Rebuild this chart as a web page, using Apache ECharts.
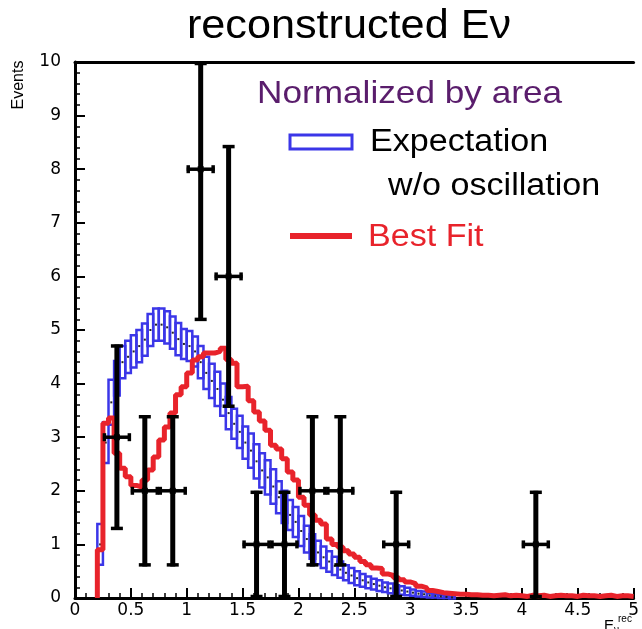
<!DOCTYPE html>
<html><head><meta charset="utf-8">
<script src="https://cdn.jsdelivr.net/npm/echarts@6/dist/echarts.min.js"></script>
<style>html,body{margin:0;padding:0;background:#fff}#c{width:642px;height:629px}</style>
</head><body><div id="c"></div>
<script>
// ---- data ----
const binStart = 0.2;
const binWidth = 0.05;
// Best fit histogram (bins of 0.05 from 0.2 to 5.0)
const bestFit = [0.9,3.26,3.36,2.7,2.42,2.26,2.1,2.07,2.2,2.39,2.63,2.95,3.19,3.45,3.79,3.94,4.2,4.44,4.5,4.57,
  4.57,4.6,4.66,4.45,4.38,3.94,3.95,3.68,3.47,3.3,3.13,2.85,2.78,2.6,2.35,2.2,1.88,1.73,1.55,1.45,
  1.38,1.1,1.0,0.95,0.88,0.82,0.76,0.68,0.62,0.56,0.55,0.45,0.42,0.38,0.34,0.3,0.27,0.22,0.19,0.14,
  0.12,0.1,0.09,0.08,0.07,0.07,0.06,0.06,0.05,0.05,0.04,0.05,0.06,0.04,0.05,0.04,0.03,0.05,0.04,0.05,
  0.03,0.04,0.05,0.04,0.04,0.03,0.05,0.04,0.04,0.03,0.04,0.05,0.03,0.04,0.04,0.03];
// Expectation w/o oscillation (central values and half error)
const expectation = [1.0,2.9,3.65,4.1,4.4,4.5,4.6,4.7,4.82,5.0,5.1,5.1,5.05,4.95,4.83,4.74,4.7,4.6,4.4,4.2,
  4.05,3.9,3.7,3.45,3.25,3.1,2.9,2.75,2.55,2.38,2.25,2.08,1.88,1.7,1.55,1.42,1.25,1.1,0.96,0.85,
  0.76,0.68,0.6,0.53,0.47,0.42,0.37,0.33,0.29,0.26,0.23,0.2,0.18,0.16,0.14,0.12,0.1,0.08,0.07,0.05,
  0.04,0.03,0.02,0.01];
const expectationErr = [0.38,0.38,0.42,0.32,0.3,0.3,0.3,0.3,0.3,0.3,0.3,0.3,0.3,0.3,0.3,0.28,0.28,0.28,0.3,0.3,
  0.32,0.32,0.3,0.3,0.28,0.3,0.3,0.32,0.32,0.32,0.32,0.32,0.3,0.3,0.28,0.28,0.28,0.25,0.23,0.22,
  0.2,0.19,0.17,0.15,0.14,0.14,0.13,0.12,0.11,0.1,0.1,0.09,0.09,0.08,0.08,0.07,0.06,0.05,0.05,0.04,
  0.03,0.03,0.02,0.01];
// Data points
const dataX = [0.375,0.625,0.875,1.125,1.375,1.625,1.875,2.125,2.375,2.875,4.125];
const dataY = [3,2,2,8,6,1,1,2,2,1,1];
const dataErrDown = [1.73,1.41,1.41,2.83,2.45,1,1,1.41,1.41,1,1];
const dataErrUp = [1.73,1.41,1.41,2.83,2.45,1,1,1.41,1.41,1,1];
const dataHalfWidth = 0.125;

const BLUE = '#3b36e8', RED = '#e8232b', PURPLE = '#5a1d6c';
const FONT = '"Liberation Sans", Arial, Helvetica, sans-serif';

// ---- build series data ----
const boxData = expectation.map((v, i) => [binStart + i * binWidth, binStart + (i + 1) * binWidth, v - expectationErr[i], v + expectationErr[i], v]);
const stepData = [[binStart, 0]];
bestFit.forEach((v, i) => stepData.push([binStart + i * binWidth, v]));
stepData.push([binStart + bestFit.length * binWidth, bestFit[bestFit.length - 1]]);
const pointData = dataX.map((x, i) => [x, dataY[i], dataY[i] - dataErrDown[i], dataY[i] + dataErrUp[i], dataHalfWidth]);

const chart = echarts.init(document.getElementById('c'), null, {renderer: 'canvas'});
const axisLabel = {color: '#000', fontSize: 17, fontFamily: '"DejaVu Sans", sans-serif'};
chart.setOption({
  animation: false,
  backgroundColor: '#fff',
  grid: {left: 75, right: 4, top: 62, bottom: 31, containLabel: false},
  xAxis: [{
    type: 'value', min: 0, max: 5, interval: 0.5,
    axisLine: {lineStyle: {color: '#000', width: 3}},
    axisTick: {inside: true, length: 10, lineStyle: {color: '#000', width: 2}},
    minorTick: {show: true, splitNumber: 5, length: 5, lineStyle: {color: '#000', width: 1.5}},
    splitLine: {show: false},
    axisLabel: Object.assign({margin: 4}, axisLabel)
  }, {
    type: 'value', min: 0, max: 5, position: 'top',
    axisLine: {show: true, onZero: false, lineStyle: {color: '#000', width: 3}},
    axisTick: {show: false}, axisLabel: {show: false}, splitLine: {show: false}
  }],
  yAxis: {
    type: 'value', min: 0, max: 10, interval: 1,
    axisLine: {show: true, lineStyle: {color: '#000', width: 3}},
    axisTick: {show: true, inside: true, length: 10, lineStyle: {color: '#000', width: 2}},
    minorTick: {show: true, splitNumber: 5, length: 5, lineStyle: {color: '#000', width: 1.5}},
    splitLine: {show: false},
    axisLabel: Object.assign({margin: 14}, axisLabel)
  },
  series: [{
    type: 'custom', z: 2,
    data: boxData,
    renderItem: function (params, api) {
      const x0 = api.value(0), x1 = api.value(1), lo = api.value(2), hi = api.value(3), c = api.value(4);
      const p0 = api.coord([x0, hi]);
      const p1 = api.coord([x1, lo]);
      const pc = api.coord([(x0 + x1) / 2, c]);
      return {
        type: 'group',
        children: [{
          type: 'rect',
          shape: {x: p0[0], y: p0[1], width: p1[0] - p0[0], height: Math.max(p1[1] - p0[1], 1.5)},
          style: {fill: 'none', stroke: BLUE, lineWidth: 2.5}
        }, {
          type: 'rect',
          shape: {x: pc[0] - 1, y: pc[1] - 1, width: 2, height: 2},
          style: {fill: '#222'}
        }]
      };
    }
  }, {
    type: 'line', z: 3,
    data: stepData,
    step: 'end',
    symbol: 'none',
    lineStyle: {color: RED, width: 5}
  }, {
    type: 'custom', z: 4,
    data: pointData,
    renderItem: function (params, api) {
      const x = api.value(0), y = api.value(1), lo = Math.max(api.value(2), 0), hi = Math.min(api.value(3), 10), hw = api.value(4);
      const top = api.coord([x, hi]);
      const bot = api.coord([x, lo]);
      const l = api.coord([x - hw, y]);
      const r = api.coord([x + hw, y]);
      const c = api.coord([x, y]);
      const s = {stroke: '#000', lineWidth: 5};
      const s2 = {stroke: '#000', lineWidth: 3.5};
      return {
        type: 'group',
        children: [
          {type: 'line', shape: {x1: top[0], y1: top[1], x2: bot[0], y2: bot[1]}, style: s},
          {type: 'line', shape: {x1: l[0], y1: l[1], x2: r[0], y2: r[1]}, style: s2},
          {type: 'line', shape: {x1: top[0] - 6, y1: top[1] + 1.5, x2: top[0] + 6, y2: top[1] + 1.5}, style: s2},
          {type: 'line', shape: {x1: bot[0] - 6, y1: bot[1] - 1.5, x2: bot[0] + 6, y2: bot[1] - 1.5}, style: s2},
          {type: 'line', shape: {x1: l[0] + 1.5, y1: l[1] - 4, x2: l[0] + 1.5, y2: l[1] + 4}, style: s2},
          {type: 'line', shape: {x1: r[0] - 1.5, y1: r[1] - 4, x2: r[0] - 1.5, y2: r[1] + 4}, style: s2},
          {type: 'rect', shape: {x: c[0] - 3, y: c[1] - 3, width: 6, height: 6}, style: {fill: '#000'}}
        ]
      };
    }
  }],
  graphic: [
    {type: 'text', x: 349, y: 27, scaleX: 1.08, style: {text: 'reconstructed Eν', font: '40px ' + FONT, fill: '#000', textAlign: 'center', textVerticalAlign: 'middle'}},
    {type: 'text', x: 19, y: 85, rotation: Math.PI / 2, style: {text: 'Events', font: '16px ' + FONT, fill: '#000', textAlign: 'center', textVerticalAlign: 'middle'}},
    {type: 'text', x: 257, y: 94, scaleX: 1.1, style: {text: 'Normalized by area', font: '32px ' + FONT, fill: PURPLE, textAlign: 'left', textVerticalAlign: 'middle'}},
    {type: 'rect', shape: {x: 290, y: 135, width: 62, height: 14}, style: {fill: '#fff', stroke: BLUE, lineWidth: 3}},
    {type: 'text', x: 370, y: 142, scaleX: 1.1, style: {text: 'Expectation', font: '31px ' + FONT, fill: '#000', textAlign: 'left', textVerticalAlign: 'middle'}},
    {type: 'text', x: 388, y: 186, scaleX: 1.1, style: {text: 'w/o oscillation', font: '31px ' + FONT, fill: '#000', textAlign: 'left', textVerticalAlign: 'middle'}},
    {type: 'line', shape: {x1: 290, y1: 236, x2: 352, y2: 236}, style: {stroke: RED, lineWidth: 6}},
    {type: 'text', x: 368, y: 237, scaleX: 1.1, style: {text: 'Best Fit', font: '31px ' + FONT, fill: RED, textAlign: 'left', textVerticalAlign: 'middle'}},
    {type: 'text', x: 604, y: 626, style: {text: 'E', font: '15px ' + FONT, fill: '#000', textAlign: 'left', textVerticalAlign: 'middle'}},
    {type: 'text', x: 614, y: 630, style: {text: 'ν', font: '10px ' + FONT, fill: '#000', textAlign: 'left', textVerticalAlign: 'middle'}},
    {type: 'text', x: 618, y: 619, style: {text: 'rec', font: '10px ' + FONT, fill: '#000', textAlign: 'left', textVerticalAlign: 'middle'}}
  ]
});
</script></body></html>
